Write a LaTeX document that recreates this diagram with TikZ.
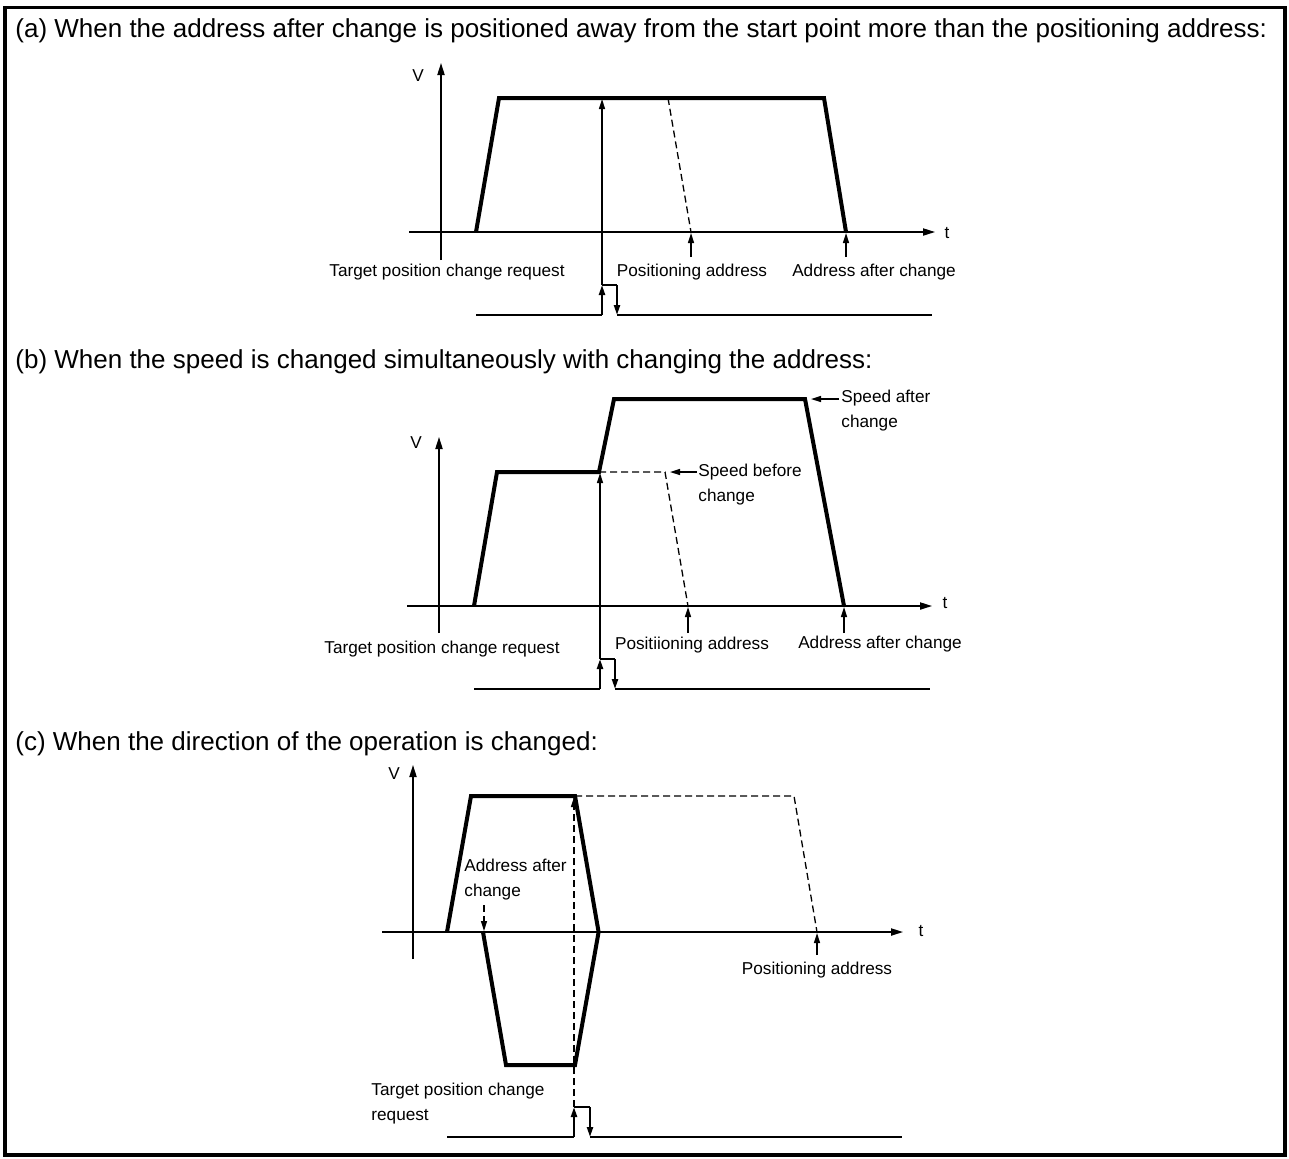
\documentclass[tikz,border=0pt]{standalone}
\usepackage{fontspec}
\setmainfont{Liberation Sans}
\usetikzlibrary{arrows.meta, positioning}

\tikzset{
  axis/.style={-{Triangle[length=6pt,width=3.6pt]}, line width=0.7pt},
  arr/.style={-{Triangle[length=5pt,width=3pt]}, line width=0.7pt},
  profile/.style={line width=2pt, line join=miter},
  ghost/.style={dash pattern=on 3.5pt off 2pt, line width=0.65pt},
  pulse/.style={line width=1.1pt},
  pulsearr/.style={-{Triangle[length=5pt,width=3pt]}, line width=1.1pt},
  lbl/.style={font=\fontsize{8.6}{12.5}\selectfont, inner sep=0pt, anchor=base},
  head/.style={font=\fontsize{13}{15}\selectfont, inner sep=0pt, anchor=base west},
}

\begin{document}
\begin{tikzpicture}[x=0.5pt, y=-0.5pt]
  \useasboundingbox (0,0) rectangle (1289,1158);
  % Frame
  \draw[line width=1.75pt] (5,7.5) rectangle (1285,1155);

  % ===== (a) =====
  \node[head] (a-head) at (15,37) {(a) When the address after change is positioned away from the start point more than the positioning address:};
  % Axes
  \coordinate (a-v0) at (441,260);
  \coordinate (a-v1) at (441,63);
  \coordinate (a-t0) at (409,232);
  \coordinate (a-t1) at (935,232);
  \draw[axis] (a-v0) -- (a-v1);
  \draw[axis] (a-t0) -- (a-t1);
  \node[lbl] (a-v) at (418,81) {V};
  \node[lbl] (a-t) at (947,238) {t};
  % Speed profile
  \draw[profile] (476,232) -- (499,98) -- (824,98) -- (846,232);
  \draw[ghost] (668,98) -- (691,232);
  % Request pulse
  \coordinate (a-p0) at (476,315);
  \coordinate (a-rb) at (602,315);
  \coordinate (a-rt) at (602,285);
  \coordinate (a-ft) at (617,285);
  \coordinate (a-fb) at (617,315);
  \coordinate (a-p1) at (932,315);
  \draw[pulse] (a-p0) -- (a-rb);
  \draw[pulsearr] (a-rb) -- (a-rt);
  \draw[pulse] (a-rt) -- (a-ft);
  \draw[pulsearr] (a-ft) -- (a-fb);
  \draw[pulse] (a-fb) -- (a-p1);
  \coordinate (a-req) at (602,99);
  \draw[arr] (a-rt) -- (a-req);
  % Addresses
  \coordinate (a-pos0) at (691,257);
  \coordinate (a-pos1) at (691,233);
  \coordinate (a-new0) at (846,257);
  \coordinate (a-new1) at (846,233);
  \draw[arr] (a-pos0) -- (a-pos1);
  \draw[arr] (a-new0) -- (a-new1);
  \node[lbl] (a-reqlbl) at (447,276) {Target position change request};
  \node[lbl] (a-poslbl) at (692,276) {Positioning address};
  \node[lbl] (a-newlbl) at (874,276) {Address after change};

  % ===== (b) =====
  \node[head] (b-head) at (15,368) {(b) When the speed is changed simultaneously with changing the address:};
  % Axes
  \coordinate (b-v0) at (439,633);
  \coordinate (b-v1) at (439,437);
  \coordinate (b-t0) at (407,606);
  \coordinate (b-t1) at (932,606);
  \draw[axis] (b-v0) -- (b-v1);
  \draw[axis] (b-t0) -- (b-t1);
  \node[lbl] (b-v) at (416,448) {V};
  \node[lbl] (b-t) at (945,608) {t};
  % Speed profile
  \draw[profile] (474,606) -- (497,472) -- (599,472) -- (614,399) -- (805,399) -- (844,606);
  \draw[ghost] (599,472) -- (665,472) -- (688,606);
  % Speed labels
  \node[lbl, anchor=base west, align=left] (b-before) at (698,501) {Speed before\\change};
  \node[lbl, anchor=base west, align=left] (b-after) at (841,427) {Speed after\\change};
  \coordinate (b-before0) at (697,472);
  \coordinate (b-before1) at (670,472);
  \coordinate (b-after0) at (839,399);
  \coordinate (b-after1) at (811,399);
  \draw[arr] (b-before0) -- (b-before1);
  \draw[arr] (b-after0) -- (b-after1);
  % Request pulse
  \coordinate (b-p0) at (474,689);
  \coordinate (b-rb) at (600,689);
  \coordinate (b-rt) at (600,659);
  \coordinate (b-ft) at (615,659);
  \coordinate (b-fb) at (615,689);
  \coordinate (b-p1) at (930,689);
  \draw[pulse] (b-p0) -- (b-rb);
  \draw[pulsearr] (b-rb) -- (b-rt);
  \draw[pulse] (b-rt) -- (b-ft);
  \draw[pulsearr] (b-ft) -- (b-fb);
  \draw[pulse] (b-fb) -- (b-p1);
  \coordinate (b-req) at (600,473);
  \draw[arr] (b-rt) -- (b-req);
  % Addresses
  \coordinate (b-pos0) at (688,633);
  \coordinate (b-pos1) at (688,607);
  \coordinate (b-new0) at (844,633);
  \coordinate (b-new1) at (844,607);
  \draw[arr] (b-pos0) -- (b-pos1);
  \draw[arr] (b-new0) -- (b-new1);
  \node[lbl] (b-reqlbl) at (442,653) {Target position change request};
  \node[lbl] (b-poslbl) at (692,649) {Positiioning address};
  \node[lbl] (b-newlbl) at (880,648) {Address after change};

  % ===== (c) =====
  \node[head] (c-head) at (15,750) {(c) When the direction of the operation is changed:};
  % Axes
  \coordinate (c-v0) at (413,959);
  \coordinate (c-v1) at (413,765);
  \coordinate (c-t0) at (382,932);
  \coordinate (c-t1) at (903,932);
  \draw[axis] (c-v0) -- (c-v1);
  \draw[axis] (c-t0) -- (c-t1);
  \node[lbl] (c-v) at (394,779) {V};
  \node[lbl] (c-t) at (921,936) {t};
  % Speed profile
  \draw[profile] (447,932) -- (471,796) -- (575,796) -- (598.6,932) -- (575,1065) -- (506,1065) -- (483,932);
  \draw[ghost] (575,796) -- (794,796) -- (817,932);
  % Request pulse
  \coordinate (c-p0) at (447,1137);
  \coordinate (c-rb) at (574,1137);
  \coordinate (c-rt) at (574,1107);
  \coordinate (c-ft) at (590,1107);
  \coordinate (c-fb) at (590,1137);
  \coordinate (c-p1) at (902,1137);
  \draw[pulse] (c-p0) -- (c-rb);
  \draw[pulsearr] (c-rb) -- (c-rt);
  \draw[pulse] (c-rt) -- (c-ft);
  \draw[pulsearr] (c-ft) -- (c-fb);
  \draw[pulse] (c-fb) -- (c-p1);
  \coordinate (c-req) at (574,797);
  \draw[arr, ghost] (c-rt) -- (c-req);
  % Addresses
  \node[lbl, anchor=base west, align=left] (c-newlbl) at (464,896) {Address after\\change};
  \coordinate (c-new0) at (484,905);
  \coordinate (c-new1) at (484,931);
  \draw[arr, ghost] (c-new0) -- (c-new1);
  \coordinate (c-pos0) at (817,955);
  \coordinate (c-pos1) at (817,933);
  \draw[arr] (c-pos0) -- (c-pos1);
  \node[lbl] (c-poslbl) at (817,974) {Positioning address};
  \node[lbl, anchor=base west, align=left] (c-reqlbl) at (371,1120) {Target position change\\request};
\end{tikzpicture}
\end{document}
